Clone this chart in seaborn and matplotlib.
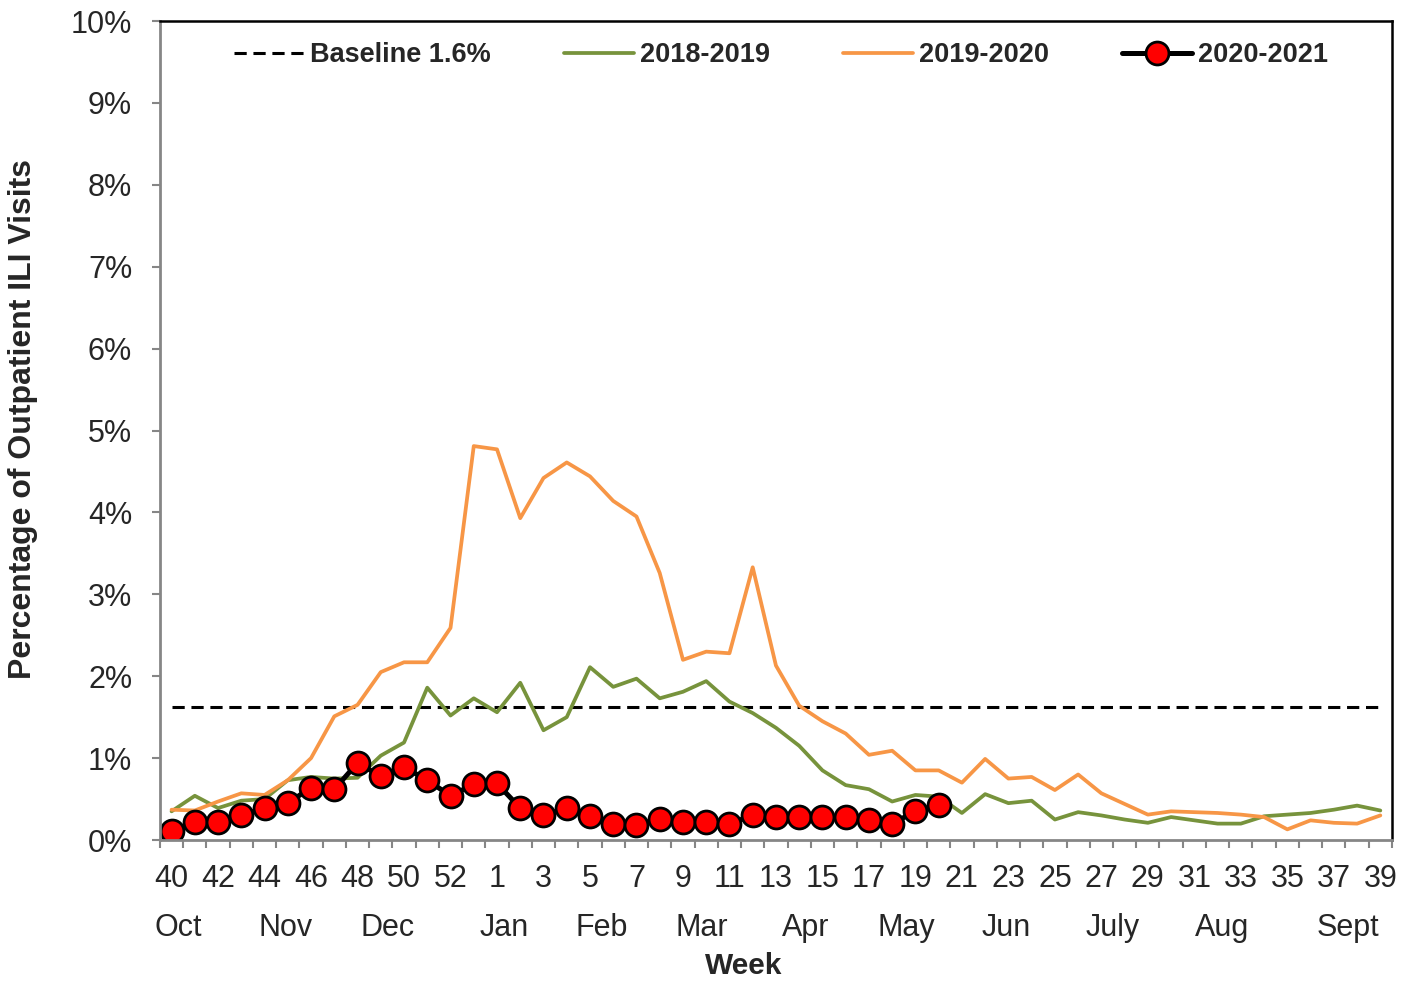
import numpy as np
import seaborn as sns
import matplotlib.pyplot as plt
import matplotlib.transforms as mtransforms

# week axis: 40..53 then 1..39
weeks = list(range(40, 54)) + list(range(1, 40))
idx = np.arange(len(weeks))

baseline = 1.63
ili_1819 = [0.35, 0.54, 0.39, 0.48, 0.50, 0.73, 0.77, 0.75, 0.76, 1.03, 1.19, 1.86, 1.52,
            1.73, 1.56, 1.92, 1.34, 1.50, 2.11, 1.87, 1.97, 1.73, 1.81, 1.94, 1.69, 1.55,
            1.37, 1.15, 0.85, 0.67, 0.62, 0.47, 0.55, 0.53, 0.33, 0.56, 0.45, 0.48, 0.25,
            0.34, 0.30, 0.25, 0.21, 0.28, 0.24, 0.20, 0.20, 0.29, 0.31, 0.33, 0.37, 0.42, 0.36]
ili_1920 = [0.37, 0.36, 0.47, 0.57, 0.55, 0.73, 1.00, 1.51, 1.65, 2.05, 2.17, 2.17, 2.59,
            4.81, 4.77, 3.93, 4.42, 4.61, 4.44, 4.14, 3.95, 3.26, 2.20, 2.30, 2.28, 3.33,
            2.13, 1.64, 1.45, 1.30, 1.04, 1.09, 0.85, 0.85, 0.70, 0.99, 0.75, 0.77, 0.61,
            0.80, 0.57, 0.44, 0.31, 0.35, 0.34, 0.33, 0.31, 0.28, 0.13, 0.24, 0.21, 0.20, 0.30]
ili_2021 = [0.11, 0.22, 0.22, 0.30, 0.39, 0.45, 0.64, 0.62, 0.94, 0.78, 0.89, 0.73, 0.54,
            0.68, 0.69, 0.39, 0.30, 0.39, 0.29, 0.20, 0.18, 0.26, 0.22, 0.22, 0.20, 0.30,
            0.28, 0.28, 0.28, 0.28, 0.24, 0.20, 0.35, 0.43]

months = ['Oct', 'Nov', 'Dec', 'Jan', 'Feb', 'Mar', 'Apr', 'May', 'Jun', 'July', 'Aug', 'Sept']
month_pos = [0.3, 4.9, 9.3, 14.3, 18.5, 22.8, 27.3, 31.6, 35.9, 40.5, 45.2, 50.6]

sns.set_theme(style='white')
plt.rcParams['font.family'] = ['Liberation Sans', 'DejaVu Sans']

green = '#77933C'
orange = '#F79646'
gray = '#868686'

fig = plt.figure(figsize=(14.13, 9.82), dpi=100)
ax = fig.add_axes([0.1132, 0.1446, 0.8719, 0.834])

sns.lineplot(x=idx, y=[baseline] * len(idx), ax=ax, color='black', lw=2.2,
             linestyle=(0, (4, 2.2)), label='Baseline 1.6%')
sns.lineplot(x=idx, y=ili_1819, ax=ax, color=green, lw=2.7, label='2018-2019')
sns.lineplot(x=idx, y=ili_1920, ax=ax, color=orange, lw=2.7, label='2019-2020')
sns.lineplot(x=idx[:len(ili_2021)], y=ili_2021, ax=ax, color='black', lw=3.6,
             marker='o', markersize=16.5, markerfacecolor='#FF0000',
             markeredgecolor='black', markeredgewidth=2, label='2020-2021')

ax.set_xlim(-0.5, len(idx) - 0.5)
ax.set_ylim(0, 10)

# x: tick marks between weeks, labels every other week
ax.set_xticks(idx[::2])
ax.set_xticklabels([str(weeks[i]) for i in idx[::2]], fontsize=22)
ax.set_xticks(np.arange(-0.5, len(idx), 1), minor=True)
ax.tick_params(axis='x', which='major', length=0, pad=17)
ax.tick_params(axis='x', which='minor', length=6, width=1.5, color=gray, bottom=True)

ax.set_yticks(np.arange(0, 11))
ax.set_yticklabels([f'{v}%' for v in range(0, 11)], fontsize=22)
ax.tick_params(axis='y', length=6, width=1.5, color=gray, left=True, pad=14)

trans = mtransforms.blended_transform_factory(ax.transData, ax.transAxes)
for m, p in zip(months, month_pos):
    ax.text(p, -0.107, m, transform=trans, ha='center', va='center', fontsize=22)

ax.set_xlabel('Week', fontsize=21.5, fontweight='bold')
ax.xaxis.set_label_coords(0.474, -0.137)
ax.set_ylabel('Percentage of Outpatient ILI Visits', fontsize=23, fontweight='bold')
ax.yaxis.set_label_coords(-0.099, 0.514)

for s in ['left', 'bottom']:
    ax.spines[s].set_color(gray)
    ax.spines[s].set_linewidth(2)
for s in ['top', 'right']:
    ax.spines[s].set_color('black')
    ax.spines[s].set_linewidth(1.8)

ax.legend(ncol=4, loc='center', bbox_to_anchor=(0.504, 0.958), frameon=False,
          prop={'size': 19.5, 'weight': 'bold'}, handlelength=2.6, handletextpad=0.2,
          columnspacing=2.7)

plt.savefig('out.png', dpi=100)
